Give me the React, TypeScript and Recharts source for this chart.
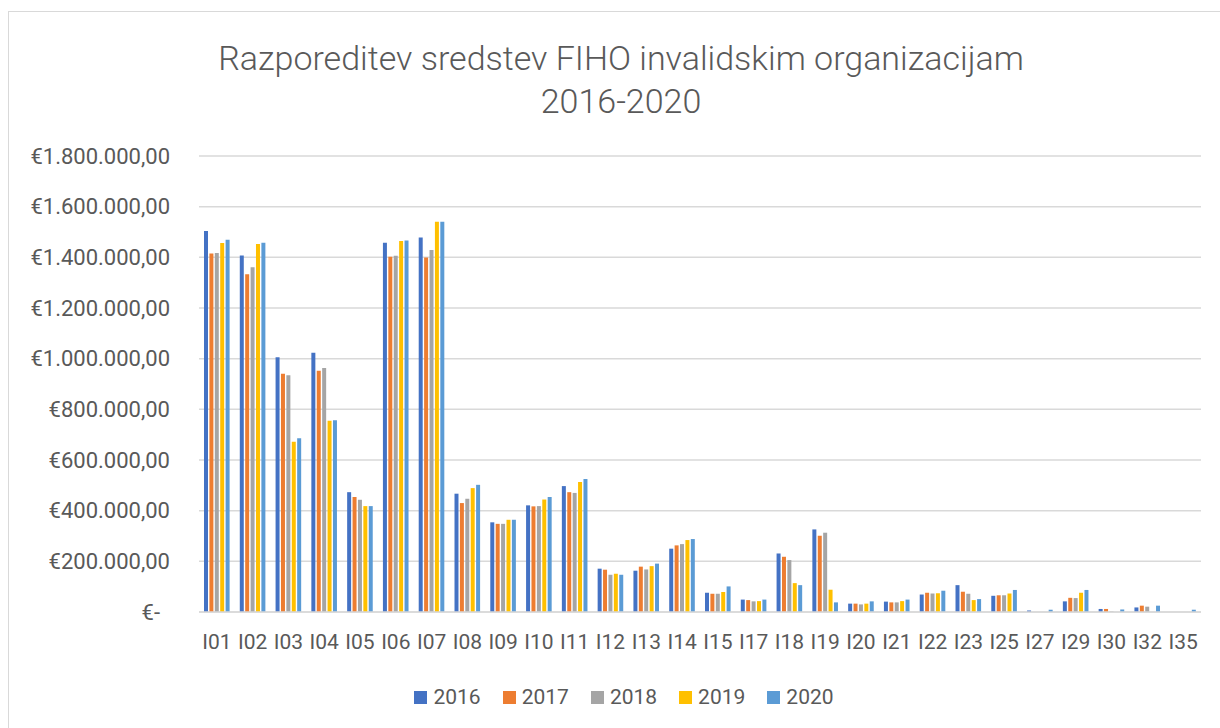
import { Bar, BarChart, CartesianGrid, XAxis, YAxis } from "recharts";

const categories = [
  "I01", "I02", "I03", "I04", "I05", "I06", "I07", "I08", "I09", "I10",
  "I11", "I12", "I13", "I14", "I15", "I17", "I18", "I19", "I20", "I21",
  "I22", "I23", "I25", "I27", "I29", "I30", "I32", "I35",
];

const v2016 = [
  1504000, 1407000, 1006000, 1023000, 473000, 1458000, 1478000, 467000, 354000, 421000,
  497000, 171000, 163000, 250000, 76000, 49000, 231000, 326000, 33000, 41000,
  69000, 106000, 64000, 6000, 42000, 12000, 18000, 0,
];
const v2017 = [
  1415000, 1333000, 940000, 952000, 454000, 1402000, 1399000, 430000, 348000, 417000,
  473000, 167000, 179000, 263000, 72000, 47000, 218000, 301000, 33000, 38000,
  76000, 80000, 66000, 0, 56000, 12000, 25000, 0,
];
const v2018 = [
  1417000, 1361000, 935000, 963000, 443000, 1406000, 1429000, 447000, 348000, 418000,
  470000, 147000, 168000, 268000, 72000, 42000, 205000, 313000, 30000, 38000,
  73000, 72000, 66000, 0, 55000, 2000, 21000, 0,
];
const v2019 = [
  1457000, 1453000, 672000, 755000, 418000, 1464000, 1540000, 489000, 364000, 444000,
  513000, 151000, 181000, 284000, 79000, 43000, 114000, 88000, 33000, 43000,
  74000, 47000, 73000, 0, 76000, 0, 0, 0,
];
const v2020 = [
  1469000, 1458000, 686000, 757000, 418000, 1466000, 1540000, 502000, 364000, 454000,
  525000, 147000, 191000, 288000, 101000, 49000, 106000, 38000, 42000, 49000,
  84000, 51000, 87000, 9000, 87000, 10000, 25000, 9000,
];

const yTicks = [0, 200000, 400000, 600000, 800000, 1000000, 1200000, 1400000, 1600000, 1800000];

const SERIES = [
  { key: "y2016", label: "2016", color: "#4472C4", values: v2016 },
  { key: "y2017", label: "2017", color: "#ED7D31", values: v2017 },
  { key: "y2018", label: "2018", color: "#A5A5A5", values: v2018 },
  { key: "y2019", label: "2019", color: "#FFC000", values: v2019 },
  { key: "y2020", label: "2020", color: "#5B9BD5", values: v2020 },
];

const TEXT = "#595959";
const FONT = "Roboto, 'Open Sans', sans-serif";

const data = categories.map((name, i) => {
  const row: Record<string, string | number> = { name };
  SERIES.forEach((s) => {
    row[s.key] = s.values[i];
  });
  return row;
});

// accounting style: €1.800.000,00, zero shown as €-
function euro(v: number) {
  if (v === 0) return "€-";
  const s = Math.round(v).toString().replace(/\B(?=(\d{3})+(?!\d))/g, ".");
  return "€" + s + ",00";
}

function YTick(props: any) {
  const { x, y, payload } = props;
  const shift = payload.value === 0 ? -10 : 0;
  return (
    <text
      x={x + shift}
      y={y}
      dy="0.355em"
      textAnchor="end"
      fill={TEXT}
      fontSize={22}
      fontFamily={FONT}
    >
      {euro(payload.value)}
    </text>
  );
}

export default function App() {
  return (
    <div
      style={{
        position: "absolute",
        left: 0,
        top: 0,
        width: 1220,
        height: 728,
        overflow: "hidden",
        background: "#fff",
        fontFamily: FONT,
      }}
    >
      <div
        style={{
          position: "absolute",
          left: 8,
          top: 11,
          width: 1226,
          height: 740,
          border: "1.5px solid #d9d9d9",
          boxSizing: "border-box",
        }}
      />
      <div
        style={{
          position: "absolute",
          left: 0,
          top: 37,
          width: 1242,
          textAlign: "center",
          fontSize: 34,
          fontWeight: 300,
          lineHeight: "43px",
          color: TEXT,
        }}
      >
        Razporeditev sredstev FIHO invalidskim organizacijam
        <br />
        2016-2020
      </div>

      <div style={{ position: "absolute", left: 0, top: 0 }}>
        <BarChart
          width={1220}
          height={728}
          data={data}
          margin={{ top: 156, right: 19, bottom: 86, left: 0 }}
          barSize={4}
          barGap={1.4}
        >
          <CartesianGrid vertical={false} stroke="#d9d9d9" strokeWidth={1.5} />
          <XAxis
            dataKey="name"
            height={30}
            tickLine={false}
            axisLine={{ stroke: "#d9d9d9", strokeWidth: 1.5 }}
            tickSize={0}
            tickMargin={22}
            interval={0}
            tick={{ fill: TEXT, fontSize: 21, fontFamily: FONT }}
          />
          <YAxis
            width={199}
            domain={[0, 1800000]}
            ticks={yTicks}
            axisLine={false}
            tickLine={false}
            tickSize={0}
            tickMargin={29}
            tick={<YTick />}
          />
          {SERIES.map((s) => (
            <Bar key={s.key} dataKey={s.key} fill={s.color} isAnimationActive={false} />
          ))}
        </BarChart>
      </div>

      <div
        style={{
          position: "absolute",
          left: 0,
          top: 687,
          width: 1248,
          display: "flex",
          justifyContent: "center",
          alignItems: "center",
          fontSize: 21,
          lineHeight: "21px",
          color: TEXT,
        }}
      >
        {SERIES.map((s, i) => (
          <div
            key={s.key}
            style={{ display: "flex", alignItems: "center", marginLeft: i === 0 ? 0 : 22 }}
          >
            <span
              style={{ display: "inline-block", width: 13, height: 13, background: s.color, marginRight: 6 }}
            />
            <span>{s.label}</span>
          </div>
        ))}
      </div>
    </div>
  );
}
